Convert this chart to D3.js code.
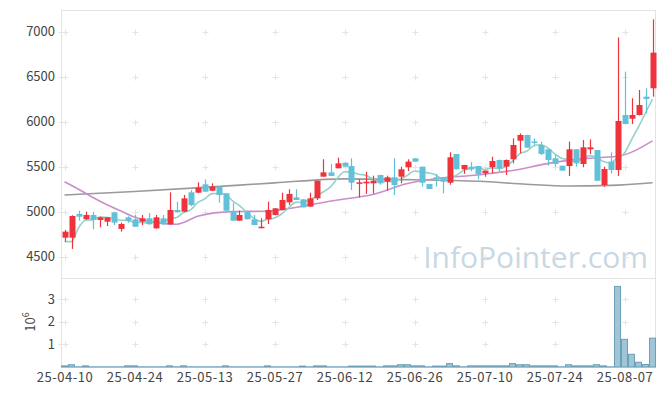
<!DOCTYPE html>
<html>
<head>
<meta charset="utf-8">
<script src="https://cdn.jsdelivr.net/npm/d3@7/dist/d3.min.js"></script>
<style>
body { margin: 0; background: #fff; }
svg text { font-family: "Noto Sans CJK KR", "Noto Sans", sans-serif; }
</style>
</head>
<body>
<svg id="chart" width="665" height="396"></svg>
<script>
/*********************************************************\
* Candles, moving averages and volume                     *
\*********************************************************/

var dates = [
	'25-04-10','25-04-11','25-04-14','25-04-15','25-04-16','25-04-17','25-04-18','25-04-21','25-04-22','25-04-23',
	'25-04-24','25-04-25','25-04-28','25-04-29','25-04-30','25-05-02','25-05-07','25-05-08','25-05-09','25-05-12',
	'25-05-13','25-05-14','25-05-15','25-05-16','25-05-19','25-05-20','25-05-21','25-05-22','25-05-23','25-05-26',
	'25-05-27','25-05-28','25-05-29','25-05-30','25-06-02','25-06-04','25-06-05','25-06-09','25-06-10','25-06-11',
	'25-06-12','25-06-13','25-06-16','25-06-17','25-06-18','25-06-19','25-06-20','25-06-23','25-06-24','25-06-25',
	'25-06-26','25-06-27','25-06-30','25-07-01','25-07-02','25-07-03','25-07-04','25-07-07','25-07-08','25-07-09',
	'25-07-10','25-07-11','25-07-14','25-07-15','25-07-16','25-07-17','25-07-18','25-07-21','25-07-22','25-07-23',
	'25-07-24','25-07-25','25-07-28','25-07-29','25-07-30','25-07-31','25-08-01','25-08-04','25-08-05','25-08-06',
	'25-08-07','25-08-08','25-08-11','25-08-12','25-08-13'
];

var open = [
	4711,4711,4974,4916,4963,4908,4889,4993,4808,4937,
	4915,4889,4926,4815,4926,4860,5019,5000,5215,5211,
	5304,5233,5278,5204,5000,4900,5000,4915,4822,4915,
	4963,5019,5104,5159,5137,5056,5148,5389,5437,5482,
	5544,5507,5315,5315,5315,5407,5333,5382,5389,5493,
	5593,5500,5307,5382,5382,5322,5641,5471,5500,5507,
	5426,5493,5574,5500,5582,5789,5852,5780,5741,5693,
	5593,5511,5507,5693,5530,5693,5685,5296,5556,5463,
	6074,6033,6074,6278,6371
];
var high = [
	4797,4960,5011,5000,5000,4945,4940,5000,4878,4950,
	4963,4963,4985,4963,4963,5215,5111,5185,5240,5326,
	5359,5315,5280,5204,5100,5011,5011,4963,4926,5111,
	5040,5211,5249,5249,5140,5211,5344,5582,5530,5600,
	5550,5593,5360,5444,5400,5410,5400,5593,5500,5582,
	5595,5500,5310,5420,5385,5660,5641,5519,5550,5510,
	5456,5611,5580,5580,5815,5870,5855,5815,5778,5695,
	5630,5512,5778,5695,5796,5804,5687,5500,5660,6937,
	6556,6260,6352,6371,7137
];
var low = [
	4667,4586,4900,4910,4804,4826,4841,4852,4778,4878,
	4830,4852,4855,4810,4852,4855,4990,4995,5060,5205,
	5222,5230,5100,5011,4900,4900,4915,4852,4815,4863,
	4960,5015,5074,5130,5048,5056,5130,5389,5397,5482,
	5500,5241,5159,5197,5200,5300,5233,5185,5315,5452,
	5556,5278,5252,5278,5204,5300,5471,5420,5450,5360,
	5389,5426,5444,5407,5537,5648,5711,5741,5630,5511,
	5500,5456,5397,5500,5493,5641,5344,5278,5426,5397,
	5974,5974,6070,6093,6278
];
var close = [
	4778,4952,4944,4963,4908,4937,4937,4878,4863,4900,
	4833,4926,4860,4937,4860,5019,4993,5148,5074,5267,
	5222,5278,5185,5011,4900,4963,4915,4852,4833,5019,
	5037,5130,5197,5130,5048,5148,5344,5437,5397,5537,
	5500,5322,5326,5333,5344,5315,5382,5296,5471,5556,
	5556,5322,5252,5367,5333,5604,5471,5519,5471,5419,
	5456,5563,5482,5574,5741,5852,5711,5770,5641,5574,
	5530,5456,5693,5537,5715,5715,5344,5474,5463,6008,
	5974,6074,6185,6252,6767
];
var volume = [
	50000,100000,8000,50000,8000,8000,8000,8000,8000,50000,
	50000,8000,8000,8000,8000,50000,8000,50000,8000,8000,
	8000,8000,8000,50000,8000,8000,8000,8000,8000,50000,
	8000,8000,8000,8000,40000,8000,50000,50000,8000,8000,
	8000,40000,40000,40000,40000,8000,50000,50000,100000,100000,
	50000,50000,8000,40000,40000,150000,50000,8000,50000,50000,
	50000,50000,50000,50000,150000,100000,100000,50000,50000,50000,
	50000,8000,100000,50000,50000,50000,100000,50000,8000,3550000,
	1220000,560000,210000,110000,1270000
];

var ma5 = [
	4667,4667,4820,4905,4909,4941,4938,4925,4905,4903,
	4882,4880,4876,4891,4883,4920,4934,4991,5019,5100,
	5141,5198,5205,5193,5119,5067,4995,4928,4893,4916,
	4931,4974,5043,5103,5108,5131,5173,5221,5275,5373,
	5443,5439,5416,5404,5365,5328,5340,5334,5362,5404,
	5452,5440,5431,5411,5366,5376,5405,5459,5480,5497,
	5467,5486,5478,5499,5563,5642,5672,5730,5743,5710,
	5645,5594,5579,5558,5586,5623,5601,5557,5542,5601,
	5653,5799,5941,6099,6250
];
var ma20Day = [0,2,4,6,8,10,12,14,16,17,18,19,24,29,34,39,44,49,54,59,64,69,74,79,84];
var ma20 = [5333,5250,5160,5080,5010,4940,4895,4870,4860,4880,4915,4949,5001,5005,5061,5129,5191,5313,5377,5408,5458,5534,5589,5615,5787];
var ma120Day = [0,10,20,30,40,50,60,66,72,78,84];
var ma120 = [5185,5225,5270,5320,5365,5355,5335,5305,5285,5292,5322];

var priceTicks = [4500, 5000, 5500, 6000, 6500, 7000];
var volumeTicks = [1e6, 2e6, 3e6];
var dateTicks = [0, 10, 20, 30, 40, 50, 60, 70, 80];

//- - - - - - - - - - - - - - - - - - - - - - - - - - - - - - - - - - - - - - -

var svg = d3.select('#chart'),
	plotLeft = 61, plotRight = 656, plotTop = 10, plotMid = 278, plotBottom = 367,
	upColor = '#ee333d', downColor = '#62c1d8',
	frameColor = '#e3e3e3';

var x = d3.scaleLinear().domain([-0.5, close.length - 0.5]).range([plotLeft, plotRight]),
	y = d3.scaleLinear().domain([4263, 7241]).range([plotMid, plotTop]),
	yv = d3.scaleLinear().domain([0, 3.92e6]).range([plotBottom, plotMid]);

function cross(g, px, py)
{
	g.append('path')
		.attr('d', 'M' + (px - 3) + ',' + py + 'h6M' + px + ',' + (py - 3) + 'v6')
		.attr('stroke', '#e4e4e4')
		.attr('stroke-width', 1)
	;
}

// watermark behind everything
svg.append('text')
	.attr('x', 648).attr('y', 268)
	.attr('text-anchor', 'end')
	.attr('font-size', 30)
	.attr('fill', '#c8d8e3')
	.style('font-family', '"Open Sans", sans-serif')
	.text('InfoPointer.com')
;

// frames
svg.append('rect')
	.attr('x', plotLeft + 0.5).attr('y', plotTop + 0.5)
	.attr('width', plotRight - plotLeft - 1).attr('height', plotMid - plotTop)
	.attr('fill', 'none').attr('stroke', frameColor)
;
svg.append('rect')
	.attr('x', plotLeft + 0.5).attr('y', plotMid + 0.5)
	.attr('width', plotRight - plotLeft - 1).attr('height', plotBottom - plotMid)
	.attr('fill', 'none').attr('stroke', frameColor)
;

var marks = svg.append('g').attr('class', 'marks');
dateTicks.forEach(function (d) {
	priceTicks.forEach(function (p) { cross(marks, Math.round(x(d)) + 0.5, Math.round(y(p)) + 0.5); });
	volumeTicks.forEach(function (v) { cross(marks, Math.round(x(d)) + 0.5, Math.round(yv(v)) + 0.5); });
});
priceTicks.forEach(function (p) { cross(marks, plotLeft + 0.5, Math.round(y(p)) + 0.5); });
volumeTicks.forEach(function (v) { cross(marks, plotLeft + 0.5, Math.round(yv(v)) + 0.5); });

// axes
var yAxis = svg.append('g')
	.attr('transform', 'translate(' + (plotLeft - 2) + ',0)')
	.call(d3.axisLeft(y).tickValues(priceTicks).tickSize(0).tickPadding(4).tickFormat(d3.format('d')))
;
var vAxis = svg.append('g')
	.attr('transform', 'translate(' + (plotLeft - 2) + ',0)')
	.call(d3.axisLeft(yv).tickValues(volumeTicks).tickSize(0).tickPadding(4)
		.tickFormat(function (d) { return d / 1e6; }))
;
var xAxis = svg.append('g')
	.attr('transform', 'translate(0,' + (plotBottom + 2) + ')')
	.call(d3.axisBottom(x).tickValues(dateTicks).tickSize(0).tickPadding(4)
		.tickFormat(function (d) { return dates[d]; }))
;
[yAxis, vAxis, xAxis].forEach(function (a) {
	a.select('.domain').remove();
	a.selectAll('text')
		.attr('fill', '#444')
		.attr('font-size', 13)
		.style('font-family', '"Noto Sans CJK KR", "Noto Sans", sans-serif')
	;
});
xAxis.selectAll('text').style('letter-spacing', '0.5px');

var unit = svg.append('text')
	.attr('transform', 'translate(35,322) rotate(-90)')
	.attr('text-anchor', 'middle')
	.attr('fill', '#444')
	.attr('font-size', 13)
;
unit.append('tspan').text('10');
unit.append('tspan').attr('dy', -6).attr('font-size', 9).text('6');

//- - - - - - - - - - - - - - - - - - - - - - - - - - - - - - - - - - - - - - -

// volume bars
svg.append('g').attr('class', 'volume')
	.selectAll('rect')
	.data(volume)
	.enter()
	.append('rect')
	.attr('x', function (d, i) { return x(i - 0.5) + 0.5; })
	.attr('width', x(1) - x(0) - 1)
	.attr('y', function (d) { return yv(d); })
	.attr('height', function (d) { return yv(0) - yv(d); })
	.attr('fill', '#9fc5d6')
	.attr('stroke', '#6d9fb7')
	.attr('stroke-width', 1)
;

// moving averages
function maLine(days, values, color)
{
	var line = d3.line()
		.x(function (d, i) { return x(days[i]); })
		.y(function (d) { return y(d); })
		.curve(d3.curveMonotoneX);
	svg.append('path')
		.attr('d', line(values))
		.attr('fill', 'none')
		.attr('stroke', color)
		.attr('stroke-width', 1.6)
	;
}
maLine(ma120Day, ma120, '#9a9a9a');
maLine(ma20Day, ma20, '#cc8dcb');
maLine(d3.range(ma5.length), ma5, '#93d3c7');

// candles
var candles = svg.append('g').attr('class', 'candles')
	.selectAll('g')
	.data(close)
	.enter()
	.append('g')
	.attr('fill', function (d, i) { return d >= open[i] ? upColor : downColor; })
	.attr('stroke', function (d, i) { return d >= open[i] ? upColor : downColor; })
;
candles.append('line')
	.attr('x1', function (d, i) { return Math.round(x(i)) + 0.5; })
	.attr('x2', function (d, i) { return Math.round(x(i)) + 0.5; })
	.attr('y1', function (d, i) { return y(high[i]); })
	.attr('y2', function (d, i) { return y(low[i]); })
	.attr('stroke-width', 1.2)
;
candles.append('rect')
	.attr('x', function (d, i) { return Math.round(x(i)) - 2.5; })
	.attr('width', 6)
	.attr('y', function (d, i) { return y(Math.max(d, open[i])); })
	.attr('height', function (d, i) { return Math.max(1.5, Math.abs(y(d) - y(open[i]))); })
	.attr('stroke', 'none')
;

//------------------------------------------------------------------------------
</script>
</body>
</html>
